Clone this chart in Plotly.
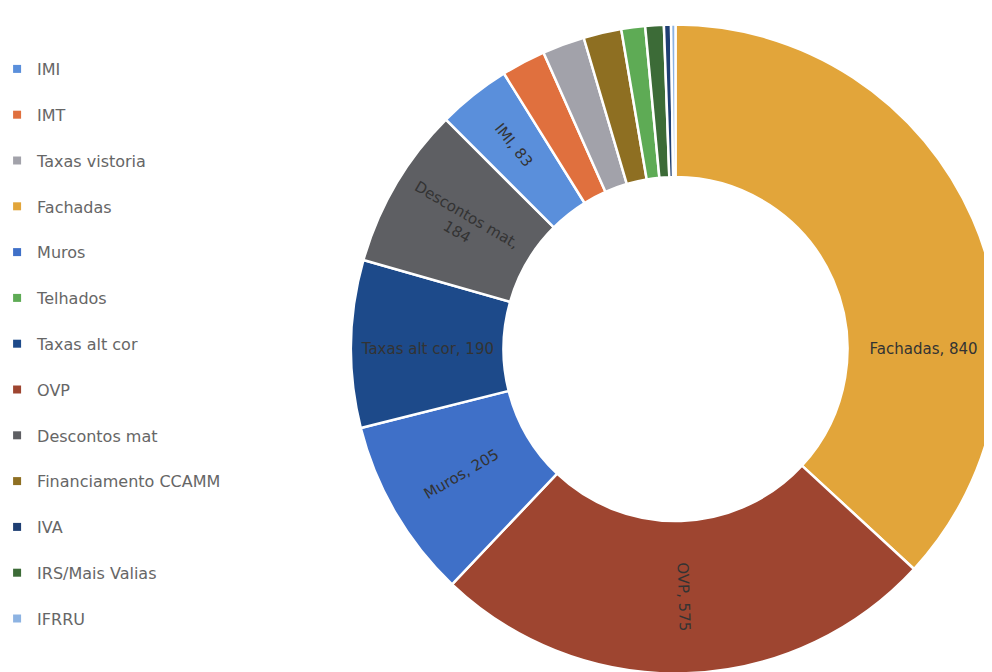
import plotly.graph_objects as go

# Legend order (as in the reference)
legend_labels = ["IMI", "IMT", "Taxas vistoria", "Fachadas", "Muros", "Telhados",
                 "Taxas alt cor", "OVP", "Descontos mat", "Financiamento CCAMM",
                 "IVA", "IRS/Mais Valias", "IFRRU"]
legend_values = [83, 50, 48, 840, 205, 27, 190, 575, 184, 43, 8, 21, 5]
legend_colors = ["#5A8FDB", "#E0703E", "#A2A2AA", "#E2A53A", "#3F70C8", "#5EAB55",
                 "#1D4A8A", "#9E4530", "#5E5F63", "#8E6F22", "#1F3F73", "#3C6B37",
                 "#8DB3E2"]
# slices that carry a data label (label text, possibly wrapped)
label_text = {"Fachadas": "Fachadas", "OVP": "OVP", "Muros": "Muros",
              "Taxas alt cor": "Taxas alt cor", "Descontos mat": "Descontos mat,<br>",
              "IMI": "IMI"}

texts = []
for l, v in zip(legend_labels, legend_values):
    if l in label_text:
        t = label_text[l]
        texts.append(f"{t}{v}" if t.endswith("<br>") else f"{t}, {v}")
    else:
        texts.append("")

fig = go.Figure()

fig.add_trace(go.Pie(
    labels=legend_labels,
    values=legend_values,
    text=texts,
    textinfo="text",
    textposition="inside",
    insidetextorientation="radial",
    textfont=dict(family="DejaVu Sans, Arial", size=15, color="#333333"),
    marker=dict(colors=legend_colors, line=dict(color="white", width=2.5)),
    hole=0.53,
    sort=True,
    direction="clockwise",
    rotation=0,
    showlegend=False,
    domain=dict(x=[343 / 992, 1.0], y=[0.0, 1 - 10 / 672]),
))

# legend entries (no data drawn)
for l, c in zip(legend_labels, legend_colors):
    fig.add_trace(go.Scatter(
        x=[None], y=[None], mode="markers", name=l, legendgroup=l,
        marker=dict(symbol="square", size=8, color=c),
        hoverinfo="skip",
    ))

fig.update_layout(
    width=992, height=672,
    margin=dict(l=0, r=0, t=0, b=0, autoexpand=False),
    paper_bgcolor="white", plot_bgcolor="white",
    xaxis=dict(visible=False), yaxis=dict(visible=False),
    legend=dict(
        x=-0.011, y=1 - 44 / 672, xanchor="left", yanchor="top",
        font=dict(family="DejaVu Sans, Arial", size=16, color="#666666"),
        tracegroupgap=22, itemwidth=30, bgcolor="rgba(0,0,0,0)",
    ),
    showlegend=True,
)

fig.write_html("out.html")
